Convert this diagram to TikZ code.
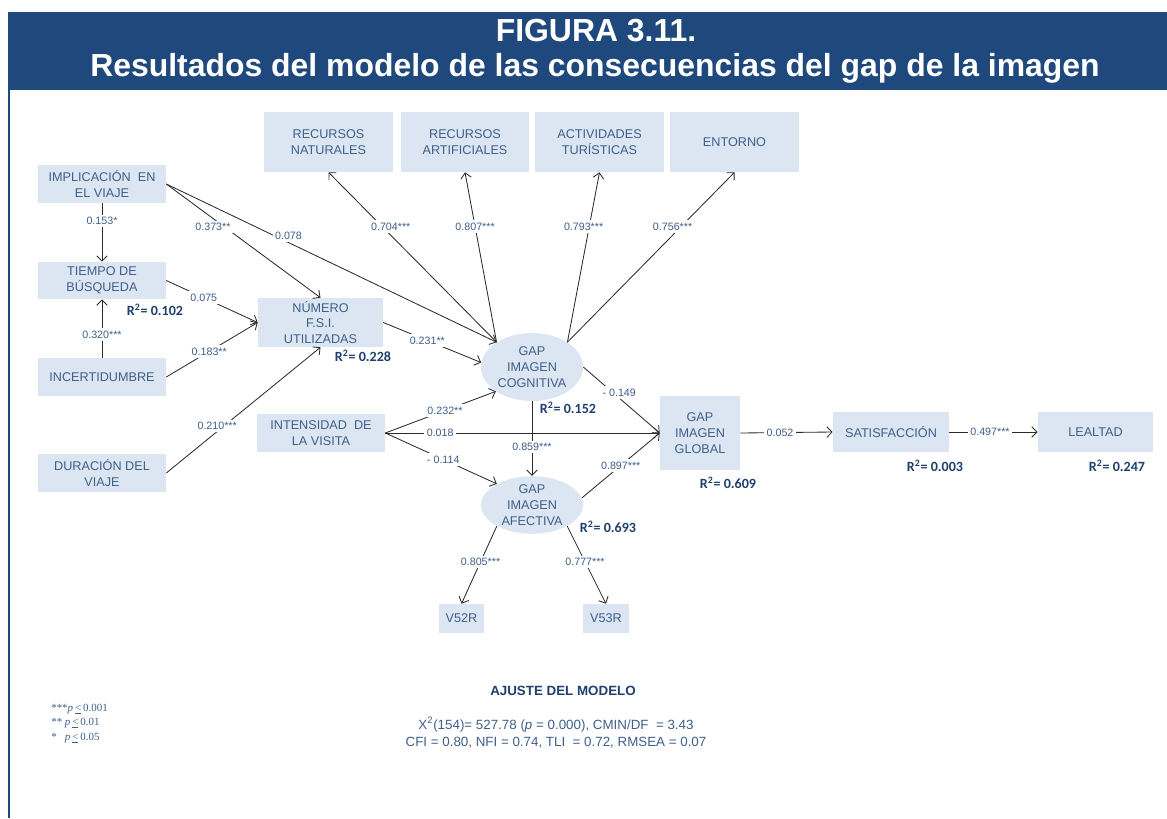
\documentclass[tikz,border=0pt]{standalone}
\usepackage{fontspec}
\setmainfont{Liberation Sans}
\newfontfamily\calibrifont{Carlito}
\newfontfamily\timesfont{Liberation Serif}
\usetikzlibrary{shapes.geometric,arrows.meta}
\definecolor{hdrblue}{HTML}{1F497D}
\definecolor{boxfill}{HTML}{DCE6F2}
\definecolor{txtblue}{HTML}{3E5F8A}
\definecolor{rblue}{HTML}{1F3F6E}
\definecolor{linegray}{HTML}{2B2B2B}

\begin{document}
\begin{tikzpicture}[x=0.025cm,y=-0.025cm,>={Straight Barb[length=3.8pt,width=7.5pt]},
    box/.style={fill=boxfill,text=txtblue,font=\fontsize{9}{11.3}\selectfont,align=center,inner sep=0pt},
    latent/.style={ellipse,box},
    coef/.style={fill=white,text=txtblue,font=\fontsize{7.6}{9}\selectfont,inner sep=1.8pt},
    rsq/.style={text=rblue,font=\calibrifont\bfseries\fontsize{10}{11}\selectfont},
    signote/.style={text=txtblue,font=\timesfont\fontsize{7.8}{8}\selectfont,anchor=west,inner sep=0pt},
    link/.style={->,draw=linegray,line width=0.6pt}]
      \useasboundingbox (0,0) rectangle (1167,818);
      \fill[hdrblue] (10,12) rectangle (1167,90);
      \draw[hdrblue,line width=1.8pt] (9,12) -- (9,818);
      \node[text=white,font=\bfseries\fontsize{22.7}{26}\selectfont] (fig) at (596,31) {FIGURA 3.11.};
      \node[text=white,font=\bfseries\fontsize{22.7}{26}\selectfont] (title) at (595,68) {Resultados del modelo de las consecuencias del gap de la imagen};
      % antecedentes
      \node[box,minimum width=3.2cm,minimum height=0.95cm] (impl) at (102,184) {IMPLICACIÓN~ EN\\EL VIAJE};
      \node[box,minimum width=3.2cm,minimum height=0.925cm] (tiempo) at (102,280.5) {TIEMPO DE\\BÚSQUEDA};
      \node[box,minimum width=3.2cm,minimum height=0.95cm] (incert) at (102,377) {INCERTIDUMBRE};
      \node[box,minimum width=3.2cm,minimum height=0.95cm] (durac) at (102,473) {DURACIÓN DEL\\VIAJE};
      \node[box,minimum width=3.125cm,minimum height=1.225cm] (numero) at (320.5,322.5) {NÚMERO\\F.S.I.\\UTILIZADAS};
      \node[box,minimum width=3.2cm,minimum height=0.95cm] (intens) at (321,433) {INTENSIDAD~ DE\\LA VISITA};
      % dimensiones
      \node[box,minimum width=3.225cm,minimum height=1.5cm] (natur) at (328.5,142) {RECURSOS\\NATURALES};
      \node[box,minimum width=3.2cm,minimum height=1.5cm] (artif) at (465,142) {RECURSOS\\ARTIFICIALES};
      \node[box,minimum width=3.225cm,minimum height=1.5cm] (activ) at (599.5,142) {ACTIVIDADES\\TURÍSTICAS};
      \node[box,minimum width=3.225cm,minimum height=1.5cm] (entorno) at (734.5,142) {ENTORNO};
      % gap
      \node[latent,minimum width=2.55cm,minimum height=1.7cm] (cog) at (532,367) {GAP\\IMAGEN\\COGNITIVA};
      \node[latent,minimum width=2.55cm,minimum height=1.425cm] (afec) at (532,505) {GAP\\IMAGEN\\AFECTIVA};
      \node[box,minimum width=2cm,minimum height=1.85cm] (global) at (700,433) {GAP\\IMAGEN\\GLOBAL};
      \node[box,minimum width=1.125cm,minimum height=0.725cm] (vfiftytwo) at (461.5,618.5) {V52R};
      \node[box,minimum width=1.15cm,minimum height=0.725cm] (vfiftythree) at (606,618.5) {V53R};
      \node[box,minimum width=2.9cm,minimum height=1cm] (satis) at (891,432) {SATISFACCIÓN};
      \node[box,minimum width=2.875cm,minimum height=1cm] (lealtad) at (1095.5,432) {LEALTAD};
      % relaciones
      \draw[link] (impl.south) -- node[coef,pos=0.3] {0.153*} (tiempo.north);
      \draw[link] (incert.north) -- node[coef,pos=0.4] {0.320***} (tiempo.south);
      \draw[link] (impl.east) -- node[coef,pos=0.33,xshift=-3pt,yshift=-4pt] {0.373**} (numero.north);
      \draw[link] (impl.east) -- node[coef,pos=0.37,yshift=5pt] {0.078} (cog.145);
      \draw[link] (tiempo.east) -- node[coef,pos=0.41] {0.075} (numero.west);
      \draw[link] (incert.east) -- node[coef,pos=0.47] {0.183**} (numero.west);
      \draw[link] (durac.east) -- node[coef,pos=0.33,yshift=4pt] {0.210***} (numero.south);
      \draw[link] (numero.east) -- node[coef,pos=0.45] {0.231**} (cog.175);
      \draw[link] (cog.145) -- node[coef,pos=0.68,xshift=6pt] {0.704***} (natur.south);
      \draw[link] (cog.145) -- node[coef,pos=0.68] {0.807***} (artif.south);
      \draw[link] (cog.35) -- node[coef,pos=0.68,xshift=-4pt] {0.793***} (activ.south);
      \draw[link] (cog.35) -- node[coef,pos=0.68,xshift=-6pt] {0.756***} (entorno.south);
      \draw[link] (cog.east) -- node[coef,pos=0.47,yshift=4pt] {- 0.149} (global.west);
      \draw[link] (intens.east) -- node[coef,pos=0.54] {0.232**} (cog.214);
      \draw[link] (intens.east) -- node[coef,pos=0.2] {0.018} (global.west);
      \draw[link] (intens.east) -- node[coef,pos=0.52] {- 0.114} (afec.149);
      \draw[link] (cog.south) -- node[coef,pos=0.61] {0.859***} (afec.north);
      \draw[link] (afec.8) -- node[coef,pos=0.5] {0.897***} (global.west);
      \draw[link] (afec.211) -- node[coef,pos=0.46] {0.805***} (vfiftytwo.north);
      \draw[link] (afec.329) -- node[coef,pos=0.46] {0.777***} (vfiftythree.north);
      \draw[link] (global.east) -- node[coef,pos=0.43] {0.052} (satis.west);
      \draw[link] (satis.east) -- node[coef,pos=0.46] {0.497***} (lealtad.west);
      % R2
      \node[rsq] (rtiempo) at (155,310) {R\textsuperscript{2}= 0.102};
      \node[rsq] (rnumero) at (363,356) {R\textsuperscript{2}= 0.228};
      \node[rsq] (rcog) at (568,408) {R\textsuperscript{2}= 0.152};
      \node[rsq] (rafec) at (608,527) {R\textsuperscript{2}= 0.693};
      \node[rsq] (rglobal) at (728,483) {R\textsuperscript{2}= 0.609};
      \node[rsq] (rsatis) at (935,466) {R\textsuperscript{2}= 0.003};
      \node[rsq] (rlealtad) at (1117,466) {R\textsuperscript{2}= 0.247};
      % ajuste
      \node[text=rblue,font=\bfseries\fontsize{9.5}{11}\selectfont] (ajuste) at (563,691) {AJUSTE DEL MODELO};
      \node[text=txtblue,font=\fontsize{9.5}{12}\selectfont,align=center] (indices) at (556,732.5) {X\textsuperscript{2}(154)= 527.78 (\textit{p} = 0.000), CMIN/DF~ = 3.43\\CFI = 0.80, NFI = 0.74, TLI~ = 0.72, RMSEA = 0.07};
      \node[signote] (sigone) at (51,709) {***\textit{p}\,\underline{<}\,0.001};
      \node[signote] (sigtwo) at (51,723) {**\ \textit{p}\,\underline{<}\,0.01};
      \node[signote] (sigthree) at (51,738) {*\ \ \ \textit{p}\,\underline{<}\,0.05};
\end{tikzpicture}
\end{document}
